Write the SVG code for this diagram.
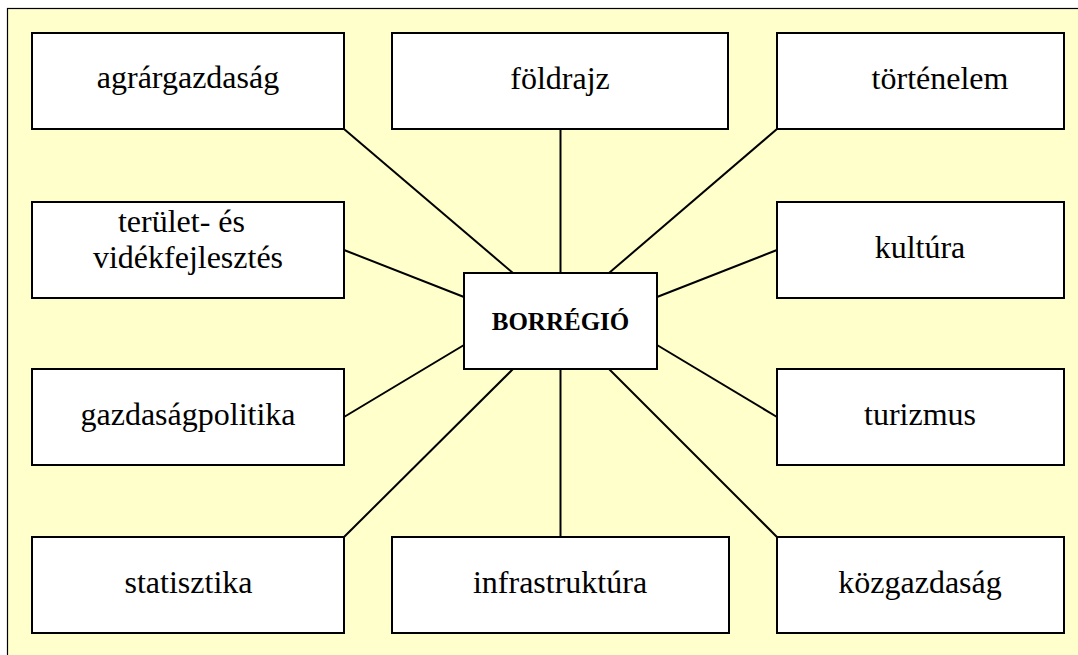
<svg xmlns="http://www.w3.org/2000/svg" width="1078" height="655" viewBox="0 0 1078 655">
  <style>
    .box { fill: #ffffff; stroke: #000000; stroke-width: 2; }
    .lbl { font-family: "Liberation Serif", "DejaVu Serif", serif; font-size: 32px; font-weight: normal; font-style: normal; fill: #000000; text-anchor: middle; }
    .ctr { font-family: "Liberation Serif", "DejaVu Serif", serif; font-size: 25px; font-weight: bold; fill: #000000; text-anchor: middle; }
    .conn line { stroke: #000000; stroke-width: 2; }
  </style>
  <rect x="0" y="0" width="1078" height="655" fill="#ffffff"/>
  <rect id="frame" x="7.5" y="8.5" width="1080" height="660" fill="#ffffcc" stroke="#000000" stroke-width="1.2"/>

  <g id="connectors" class="conn">
    <line x1="344" y1="129" x2="513" y2="273"/>
    <line x1="560.5" y1="129" x2="560.5" y2="273"/>
    <line x1="777" y1="129" x2="609" y2="273"/>
    <line x1="344" y1="250" x2="464" y2="297"/>
    <line x1="777" y1="250" x2="657" y2="297"/>
    <line x1="344" y1="417" x2="464" y2="345"/>
    <line x1="777" y1="417" x2="657" y2="345"/>
    <line x1="344" y1="537" x2="513" y2="369"/>
    <line x1="560.5" y1="369" x2="560.5" y2="537"/>
    <line x1="777" y1="537" x2="609" y2="369"/>
  </g>

  <g id="node-agrargazdasag">
    <rect class="box" x="32" y="33" width="312" height="96"/>
    <text class="lbl" x="188" y="88">agrárgazdaság</text>
  </g>
  <g id="node-foldrajz">
    <rect class="box" x="392" y="33" width="336" height="96"/>
    <text class="lbl" x="560" y="89">földrajz</text>
  </g>
  <g id="node-tortenelem">
    <rect class="box" x="777" y="33" width="287" height="96"/>
    <text class="lbl" x="940" y="89">történelem</text>
  </g>
  <g id="node-terulet">
    <rect class="box" x="32" y="202" width="312" height="96"/>
    <text class="lbl" x="181.5" y="232">terület- és</text>
    <text class="lbl" x="188" y="268">vidékfejlesztés</text>
  </g>
  <g id="node-kultura">
    <rect class="box" x="777" y="202" width="287" height="96"/>
    <text class="lbl" x="920" y="257.5">kultúra</text>
  </g>
  <g id="node-borregio">
    <rect class="box" x="464" y="273" width="193" height="96"/>
    <text class="ctr" x="560.5" y="330">BORRÉGIÓ</text>
  </g>
  <g id="node-gazdasagpolitika">
    <rect class="box" x="32" y="369" width="312" height="96"/>
    <text class="lbl" x="188" y="425">gazdaságpolitika</text>
  </g>
  <g id="node-turizmus">
    <rect class="box" x="777" y="369" width="287" height="96"/>
    <text class="lbl" x="920" y="425">turizmus</text>
  </g>
  <g id="node-statisztika">
    <rect class="box" x="32" y="537" width="312" height="96"/>
    <text class="lbl" x="188.5" y="592.5">statisztika</text>
  </g>
  <g id="node-infrastruktura">
    <rect class="box" x="392" y="537" width="337" height="96"/>
    <text class="lbl" x="560" y="592.5">infrastruktúra</text>
  </g>
  <g id="node-kozgazdasag">
    <rect class="box" x="777" y="537" width="287" height="96"/>
    <text class="lbl" x="920" y="592.5">közgazdaság</text>
  </g>
</svg>
